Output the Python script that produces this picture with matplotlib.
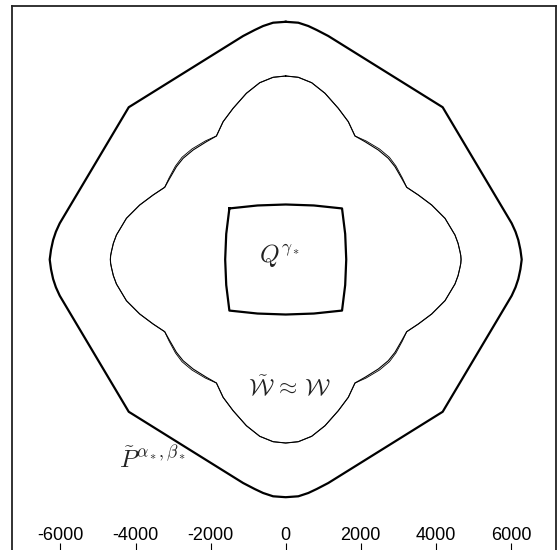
import matplotlib.pyplot as plt

plt.rcParams["mathtext.fontset"] = "cm"
plt.rcParams["axes.unicode_minus"] = False

# outer region boundary (P tilde)
outer_x = [0, 336, 602, 826, 1134, 4180, 6018, 6120, 6194, 6250, 6285,
           6250, 6194, 6120, 6018, 4180, 1134, 826, 602, 336, 0,
           -336, -602, -826, -1134, -4180, -6018, -6120, -6194, -6250, -6285,
           -6250, -6194, -6120, -6018, -4180, -1134, -826, -602, -336, 0]
outer_y = [6330, 6306, 6218, 6112, 5952, 4055, 964, 740, 519, 260, 0,
           -260, -519, -740, -964, -4055, -5952, -6112, -6218, -6306, -6330,
           -6306, -6218, -6112, -5952, -4055, -964, -740, -519, -260, 0,
           260, 519, 740, 964, 4055, 5952, 6112, 6218, 6306, 6330]

# W tilde boundary
wt_x = [0, 336, 692, 1047, 1401, 1667, 1845, 2112, 2466, 2732, 2911, 3089, 3222,
        3531, 3888, 4242, 4508, 4590, 4642, 4662, 4670,
        4662, 4642, 4590, 4508, 4242, 3888, 3531, 3222, 3089, 2911, 2732, 2466, 2112,
        1845, 1667, 1401, 1047, 692, 336, 0,
        -336, -692, -1047, -1401, -1667, -1845, -2112, -2466, -2732, -2911, -3089,
        -3222, -3531, -3888, -4242, -4508, -4590, -4642, -4662, -4670,
        -4662, -4642, -4590, -4508, -4242, -3888, -3531, -3222, -3089, -2911, -2732,
        -2466, -2112, -1845, -1667, -1401, -1047, -692, -336, 0]
wt_y = [4887, 4852, 4708, 4426, 4026, 3670, 3289, 3137, 2916, 2695, 2471, 2162, 1923,
        1718, 1451, 1097, 652, 430, 208, 105, 0,
        -105, -208, -430, -652, -1097, -1451, -1718, -1923, -2162, -2471, -2695, -2916,
        -3137, -3289, -3670, -4026, -4426, -4708, -4852, -4887,
        -4852, -4708, -4426, -4026, -3670, -3289, -3137, -2916, -2695, -2471, -2162,
        -1923, -1718, -1451, -1097, -652, -430, -208, -105, 0,
        105, 208, 430, 652, 1097, 1451, 1718, 1923, 2162, 2471, 2695,
        2916, 3137, 3289, 3670, 4026, 4426, 4708, 4852, 4887]

# W boundary (almost the same, differs on the bumps)
w_x = [0, 336, 692, 1047, 1401, 1667, 1845, 2135, 2495, 2762, 2935, 3105, 3222,
       3531, 3888, 4242, 4508, 4590, 4642, 4662, 4670,
       4662, 4642, 4590, 4508, 4242, 3888, 3531, 3222, 3105, 2935, 2762, 2495, 2135,
       1845, 1667, 1401, 1047, 692, 336, 0,
       -336, -692, -1047, -1401, -1667, -1845, -2135, -2495, -2762, -2935, -3105,
       -3222, -3531, -3888, -4242, -4508, -4590, -4642, -4662, -4670,
       -4662, -4642, -4590, -4508, -4242, -3888, -3531, -3222, -3105, -2935, -2762,
       -2495, -2135, -1845, -1667, -1401, -1047, -692, -336, 0]
w_y = [4887, 4852, 4708, 4426, 4026, 3670, 3289, 3160, 2945, 2722, 2490, 2175, 1923,
       1718, 1451, 1097, 652, 430, 208, 105, 0,
       -105, -208, -430, -652, -1097, -1451, -1718, -1923, -2175, -2490, -2722, -2945,
       -3160, -3289, -3670, -4026, -4426, -4708, -4852, -4887,
       -4852, -4708, -4426, -4026, -3670, -3289, -3160, -2945, -2722, -2490, -2175,
       -1923, -1718, -1451, -1097, -652, -430, -208, -105, 0,
       105, 208, 430, 652, 1097, 1451, 1718, 1923, 2175, 2490, 2722,
       2945, 3160, 3289, 3670, 4026, 4426, 4708, 4852, 4887]

# inner square Q
sq_x = [-1500, -750, 0, 750, 1500, 1584, 1612, 1584, 1500, 750, 0, -750, -1500,
        -1584, -1612, -1584, -1500]
sq_y = [1360, 1439, 1465, 1439, 1360, 680, 0, -680, -1360, -1439, -1465, -1439, -1360,
        -680, 0, 680, 1360]

x_ticks = [-6000, -4000, -2000, 0, 2000, 4000, 6000]

fig = plt.figure(figsize=(5.6, 5.5), dpi=100)
ax = fig.add_axes([12 / 560, -3 / 550, 544 / 560, 546.7 / 550])

ax.plot(outer_x, outer_y, color="black", lw=1.6)
ax.plot(wt_x, wt_y, color="black", lw=0.8)
ax.plot(w_x, w_y, color="black", lw=0.6)
ax.plot(sq_x, sq_y, color="black", lw=1.6)

ax.text(-160, 100, r"$Q^{\gamma_*}$", fontsize=18, ha="center", va="center", color="#222222")
ax.text(115, -3420, r"$\tilde{\mathcal{W}}\,\approx\,\mathcal{W}$", fontsize=17,
        ha="center", va="center", color="#222222")
ax.text(-3547, -5313, r"$\tilde{P}^{\alpha_*,\beta_*}$", fontsize=18,
        ha="center", va="center", color="#222222")

ax.set_xlim(-7289, 7198)
ax.set_ylim(-7816, 6743)
ax.set_xticks(x_ticks)
ax.set_xticklabels([str(t) for t in x_ticks], fontfamily="Liberation Sans")
ax.set_yticks([])
ax.tick_params(axis="x", direction="in", length=7, width=0.8, pad=-18.5, labelsize=13)
for sp in ax.spines.values():
    sp.set_linewidth(1.3)
    sp.set_color("#222222")

fig.savefig("out.png", dpi=100)
